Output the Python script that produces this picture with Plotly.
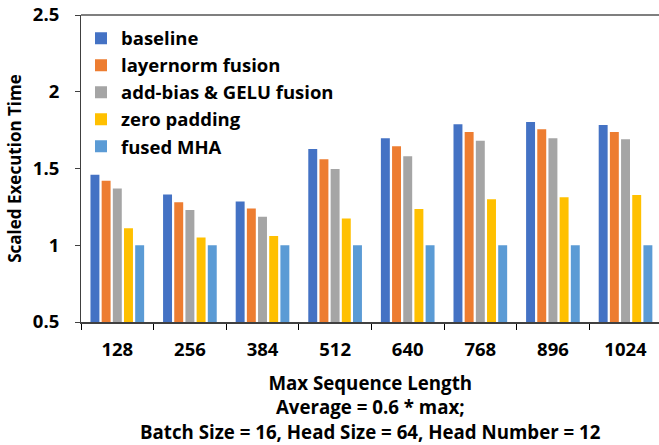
import plotly.graph_objects as go

categories = ["128", "256", "384", "512", "640", "768", "896", "1024"]
baseline = [1.46, 1.33, 1.285, 1.627, 1.697, 1.788, 1.803, 1.783]
layernorm_fusion = [1.42, 1.28, 1.24, 1.56, 1.645, 1.738, 1.755, 1.738]
addbias_gelu_fusion = [1.37, 1.23, 1.185, 1.497, 1.58, 1.68, 1.697, 1.69]
zero_padding = [1.11, 1.05, 1.06, 1.175, 1.236, 1.30, 1.312, 1.327]
fused_mha = [1.0, 1.0, 1.0, 1.0, 1.0, 1.0, 1.0, 1.0]

series = [
    ("baseline", baseline, "#4472C4"),
    ("layernorm fusion", layernorm_fusion, "#ED7D31"),
    ("add-bias & GELU fusion", addbias_gelu_fusion, "#A5A5A5"),
    ("zero padding", zero_padding, "#FFC000"),
    ("fused MHA", fused_mha, "#5B9BD5"),
]

FONT = "Open Sans"
fig = go.Figure()
for name, vals, col in series:
    fig.add_trace(go.Bar(x=categories, y=vals, name=name,
                         marker=dict(color=col, line=dict(width=0))))

fig.update_layout(
    width=659, height=445,
    margin=dict(l=81, r=0, t=15, b=123),
    paper_bgcolor="white", plot_bgcolor="white",
    barmode="group", bargap=0.23, bargroupgap=0.2,
    font=dict(family=FONT, size=16, color="black", weight="bold"),
    showlegend=True,
    legend=dict(x=0.0, y=0.985, xanchor="left", yanchor="top",
                xref="paper", yref="paper",
                bgcolor="rgba(0,0,0,0)", borderwidth=0,
                font=dict(family=FONT, size=18.5, color="black", weight="bold"),
                itemwidth=30, traceorder="normal"),
    xaxis=dict(type="category", range=[-0.5, 7.461],
               showline=True, linecolor="#404040", linewidth=1.5,
               ticks="outside", tickson="boundaries", ticklen=6,
               tickcolor="black", tickwidth=1,
               showgrid=False, zeroline=False,
               tickfont=dict(family=FONT, size=18.5, color="black", weight="bold"),
               ticklabelstandoff=10),
    yaxis=dict(range=[0.5, 2.5], dtick=0.5, tick0=0.5,
               showline=True, linecolor="#404040", linewidth=1,
               ticks="outside", ticklen=5, tickcolor="#404040",
               showgrid=False, zeroline=False,
               tickfont=dict(family=FONT, size=18.5, color="black", weight="bold"),
               ticklabelstandoff=12,
               title=dict(text="Scaled Execution Time", standoff=6,
                          font=dict(family=FONT, size=17, color="black", weight="bold"))),
)

# top border line of the chart frame
fig.add_shape(type="line", xref="paper", yref="paper", x0=0, x1=1, y0=1, y1=1,
              line=dict(color="#7F7F7F", width=2))

title_lines = ["Max Sequence Length", "Average = 0.6 * max;",
               "Batch Size = 16, Head Size = 64, Head Number = 12"]
fig.add_annotation(xref="paper", yref="paper", x=0.5, y=0, yanchor="top",
                   yshift=-46, showarrow=False,
                   text="<br>".join(title_lines),
                   font=dict(family=FONT, size=18.7, color="black", weight="bold"))

fig.write_html("out.html", config={"displayModeBar": False},
               post_script="document.body.style.margin='0';")
